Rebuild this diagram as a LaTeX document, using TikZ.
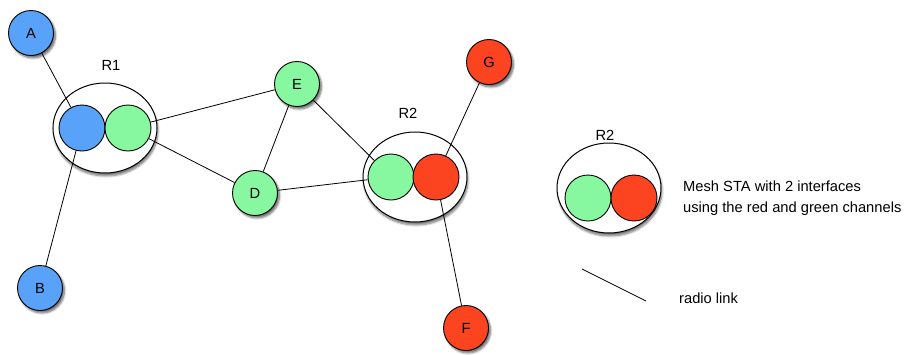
\documentclass[tikz,border=0pt]{standalone}
\usepackage{fontspec}
\setmainfont{Liberation Sans}
\usetikzlibrary{shapes.geometric,shadows.blur}

\definecolor{chanblue}{RGB}{88,162,250}
\definecolor{changreen}{RGB}{136,248,160}
\definecolor{chanred}{RGB}{252,68,32}

\tikzset{
sta/.style={
  circle,
  draw,
  minimum size=45pt,
  inner sep=0pt,
  line width=.9pt,
  blur shadow={shadow xshift=2pt, shadow yshift=-2.5pt, shadow blur steps=6, shadow opacity=60},
},
iface/.style={
  circle,
  draw,
  minimum size=46pt,
  inner sep=0pt,
  line width=.9pt,
},
router/.style={
  ellipse,
  draw,
  fill=white,
  minimum width=104pt,
  minimum height=90pt,
  line width=1pt,
  blur shadow={shadow xshift=1pt, shadow yshift=-3pt, shadow blur steps=6, shadow opacity=55},
},
blue/.style={fill=chanblue},
green/.style={fill=changreen},
red/.style={fill=chanred},
lbl/.style={inner sep=0pt, font=\fontsize{14.7}{21}\selectfont},
link/.style={line width=.8pt},
}

\begin{document}
\begin{tikzpicture}[x=1pt,y=-1pt,every node/.style={font=\fontsize{14.7}{21}\selectfont}]
\useasboundingbox (0,0) rectangle (906,354);
                  % routers
\node[router] (R1) at (105,128) {};
\node[router] (R2) at (415,177) {};
\node[router] (key) at (609,188) {};
\node[lbl] (R1-lbl) at (111,65) {R1};
\node[lbl] (R2-lbl) at (408,113) {R2};
\node[lbl] (key-lbl) at (605,135) {R2};
                  % interfaces
\node[iface,blue] (R1-b) at (82,128) {};
\node[iface,green] (R1-g) at (128,128) {};
\node[iface,green] (R2-g) at (391,177) {};
\node[iface,red] (R2-r) at (436,177) {};
\node[iface,green] (key-g) at (588,198) {};
\node[iface,red] (key-r) at (634,198) {};
                  % stations
\node[sta,blue] (A) at (31,33) {A};
\node[sta,blue] (B) at (40,288) {B};
\node[sta,green] (E) at (297,84) {E};
\node[sta,green] (D) at (255,193) {D};
\node[sta,red] (G) at (489,62) {G};
\node[sta,red] (F) at (466,328) {F};
                  % radio links
\draw[link] (A) -- (R1-b);
\draw[link] (R1-b) -- (B);
\draw[link] (R1-g) -- (E);
\draw[link] (R1-g) -- (D);
\draw[link] (E) -- (D);
\draw[link] (E) -- (R2-g);
\draw[link] (D) -- (R2-g);
\draw[link] (G) -- (R2-r);
\draw[link] (R2-r) -- (F);
                  % legend
\node[lbl,anchor=west,align=left] (key-txt) at (683,198)
  {Mesh STA with 2 interfaces\\using the red and green channels};
\coordinate (link-a) at (582,269);
\coordinate (link-b) at (646,301);
\draw[link] (link-a) -- (link-b);
\node[lbl,anchor=west] (link-txt) at (679,298) {radio link};
\end{tikzpicture}
\end{document}
